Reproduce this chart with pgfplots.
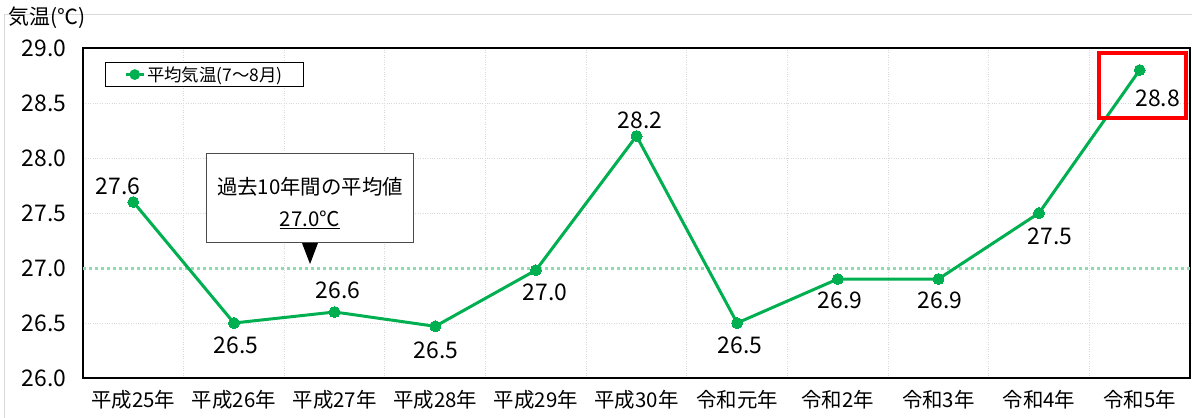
\documentclass[border=0pt]{standalone}
\usepackage{fontspec}
\setmainfont{Noto Sans CJK JP}
\usepackage{pgfplots}
\pgfplotsset{compat=1.18}
\definecolor{kgreen}{HTML}{00B050}
\definecolor{avgline}{HTML}{8FDAAE}
\definecolor{gridc}{HTML}{D9D9D9}

\pgfplotstableread{
x y
0 27.6
1 26.5
2 26.6
3 26.47
4 26.98
5 28.2
6 26.5
7 26.9
8 26.9
9 27.5
10 28.8
}\temps

\begin{document}
\begin{tikzpicture}
\path[use as bounding box] (0,0) rectangle (1192bp,418bp);
\draw[gridc, line width=1bp] (4bp,0) -- (4bp,403bp) -- (1192bp,403bp);
\node[anchor=west, inner sep=0, font=\fontsize{21}{24}\selectfont] at (8bp,400bp) {気温(℃)};
\begin{axis}[
  at={(83bp,40bp)}, anchor=south west,
  scale only axis, width=1107bp, height=330bp,
  xmin=-0.5, xmax=10.5, ymin=26, ymax=29,
  xtick={0,...,10},
  xticklabels={平成25年,平成26年,平成27年,平成28年,平成29年,平成30年,令和元年,令和2年,令和3年,令和4年,令和5年},
  minor xtick={0.5,1.5,...,9.5},
  ytick={26,26.5,27.5,28,28.5,29},
  extra y ticks={27},
  extra y tick style={grid=none},
  /pgf/number format/fixed,
  /pgf/number format/fixed zerofill,
  /pgf/number format/precision=1,
  /pgf/number format/assume math mode=true,
  yticklabel style={font=\fontsize{23}{26}\selectfont, xshift=-13bp},
  xticklabel style={font=\fontsize{20.5}{24}\selectfont, yshift=-9bp},
  major tick length=0, minor tick length=0,
  ymajorgrids, xminorgrids,
  major grid style={gridc, dotted, line width=1bp},
  minor grid style={gridc, dotted, line width=1bp},
  axis line style={black, line width=1.5bp},
  clip=false,
  legend style={at={(rel axis cs:0.0199,0.9576)}, anchor=north west,
    draw=black, line width=1bp, inner xsep=19bp, inner ysep=2bp,
    font=\fontsize{17.5}{20}\selectfont},
  legend cell align=left,
  legend image code/.code={
    \draw[kgreen, line width=2.5bp] (0bp,0bp) -- (4bp,0bp);
    \draw[kgreen, line width=2.5bp] (14bp,0bp) -- (18bp,0bp);
    \fill[kgreen] (9bp,0bp) circle (3.8bp);
  },
]
\addplot[avgline, line width=3bp, dash pattern=on 3bp off 3bp, forget plot] coordinates {(-0.5,27) (10.5,27)};
\addplot[kgreen, line width=3bp, mark=*, mark size=5.5bp,
  mark options={solid, fill=kgreen, draw=kgreen, line width=0bp}] table[x=x, y=y] {\temps};
\addlegendentry{平均気温(7～8月)}

\begin{scope}[font=\fontsize{23}{26}\selectfont]
\node at (axis cs:-0.152,27.745) {27.6};
\node at (axis cs:1.020,26.30) {26.5};
\node at (axis cs:2.034,26.80) {26.6};
\node at (axis cs:3.008,26.255) {26.5};
\node at (axis cs:4.091,26.782) {27.0};
\node at (axis cs:5.035,28.345) {28.2};
\node at (axis cs:6.029,26.30) {26.5};
\node at (axis cs:7.022,26.709) {26.9};
\node at (axis cs:8.016,26.709) {26.9};
\node at (axis cs:9.109,27.291) {27.5};
\node at (axis cs:10.18,28.545) {28.8};
\end{scope}

\draw[red, line width=4bp] (axis cs:9.596,28.955) rectangle (axis cs:10.46,28.364);

\draw[black!70, line width=1bp, fill=white] (axis cs:0.732,28.045) rectangle (axis cs:2.789,27.236);
\node[font=\fontsize{20.5}{24}\selectfont] at (axis cs:1.756,27.736) {過去10年間の平均値};
\node[font=\fontsize{20.5}{24}\selectfont] at (axis cs:1.756,27.436) {\underline{27.0℃}};
\fill[black] (axis cs:1.676,27.227) -- (axis cs:1.835,27.227) -- (axis cs:1.756,27.036) -- cycle;
\end{axis}
\end{tikzpicture}
\end{document}
